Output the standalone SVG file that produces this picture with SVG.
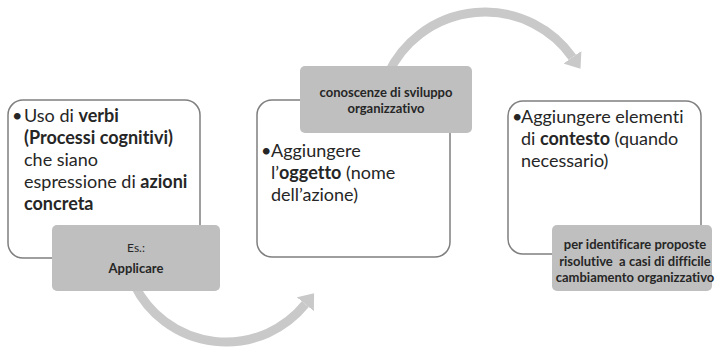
<svg xmlns="http://www.w3.org/2000/svg" width="717" height="348" viewBox="0 0 717 348">
  <style>
    text { font-variant-ligatures: none; }
    .card { fill: #ffffff; stroke: #7f7f7f; stroke-width: 1.5; }
    .tag { fill: #bfbfbf; }
    .body { font-family: Lato, "Liberation Sans", sans-serif; font-size: 18px; fill: #262626; }
    .b { font-weight: bold; }
    .small { font-family: Lato, "Liberation Sans", sans-serif; font-size: 13px; fill: #262626; text-anchor: middle; }
    .flow { fill: none; stroke: #c9c9c9; stroke-width: 9; }
  </style>
  <defs>
    <marker id="head" markerUnits="userSpaceOnUse" viewBox="0 -11 14 22" refX="0" refY="0" markerWidth="14" markerHeight="22" orient="auto">
      <path d="M0,-11 L14,0 L0,11 z" fill="#c9c9c9"/>
    </marker>
  </defs>

  <!-- curved process arrows (drawn first so the tags cover their tails) -->
  <g id="connectors">
    <path class="flow" d="M134.5,285 A102,102 0 0 0 305.3,304.2" marker-end="url(#head)"/>
    <path class="flow" d="M388,74 A107,107 0 0 1 572.4,57.3" marker-end="url(#head)"/>
  </g>

  <!-- step 1: verbs -->
  <g id="step-verbi">
    <rect class="card" x="8" y="100" width="192" height="158" rx="15"/>
    <text class="body" x="12" y="122">•</text>
    <text class="body" x="24" y="122">Uso di <tspan class="b">verbi</tspan></text>
    <text class="body b" x="24" y="144">(Processi cognitivi)</text>
    <text class="body" x="24" y="166">che siano</text>
    <text class="body" x="24" y="188">espressione di <tspan class="b">azioni</tspan></text>
    <text class="body b" x="24" y="210">concreta</text>
  </g>
  <g id="tag-esempio">
    <rect class="tag" x="52" y="225" width="168" height="66" rx="5"/>
    <text class="small" x="136" y="252" style="font-size:12px">Es.:</text>
    <text class="small b" x="136" y="273">Applicare</text>
  </g>

  <!-- step 2: object -->
  <g id="step-oggetto">
    <rect class="card" x="257" y="100" width="193" height="157" rx="15"/>
    <text class="body" x="261" y="157">•</text>
    <text class="body" x="271" y="157">Aggiungere</text>
    <text class="body" x="271" y="179">l’<tspan class="b">oggetto</tspan> (nome</text>
    <text class="body" x="271" y="201">dell’azione)</text>
  </g>
  <g id="tag-conoscenze">
    <rect class="tag" x="300" y="66" width="172" height="67" rx="5"/>
    <text class="small b" x="386" y="97">conoscenze di sviluppo</text>
    <text class="small b" x="386" y="113">organizzativo</text>
  </g>

  <!-- step 3: context -->
  <g id="step-contesto">
    <rect class="card" x="508" y="101" width="193" height="153" rx="15"/>
    <text class="body" x="512" y="123">•</text>
    <text class="body" x="521" y="123">Aggiungere elementi</text>
    <text class="body" x="521" y="145">di <tspan class="b">contesto</tspan> (quando</text>
    <text class="body" x="521" y="167">necessario)</text>
  </g>
  <g id="tag-proposte">
    <rect class="tag" x="552" y="225" width="160" height="66" rx="5"/>
    <text class="small b" x="635" y="249">per identificare proposte</text>
    <text class="small b" x="635" y="266" xml:space="preserve">risolutive  a casi di difficile</text>
    <text class="small b" x="635" y="282">cambiamento organizzativo</text>
  </g>
</svg>
